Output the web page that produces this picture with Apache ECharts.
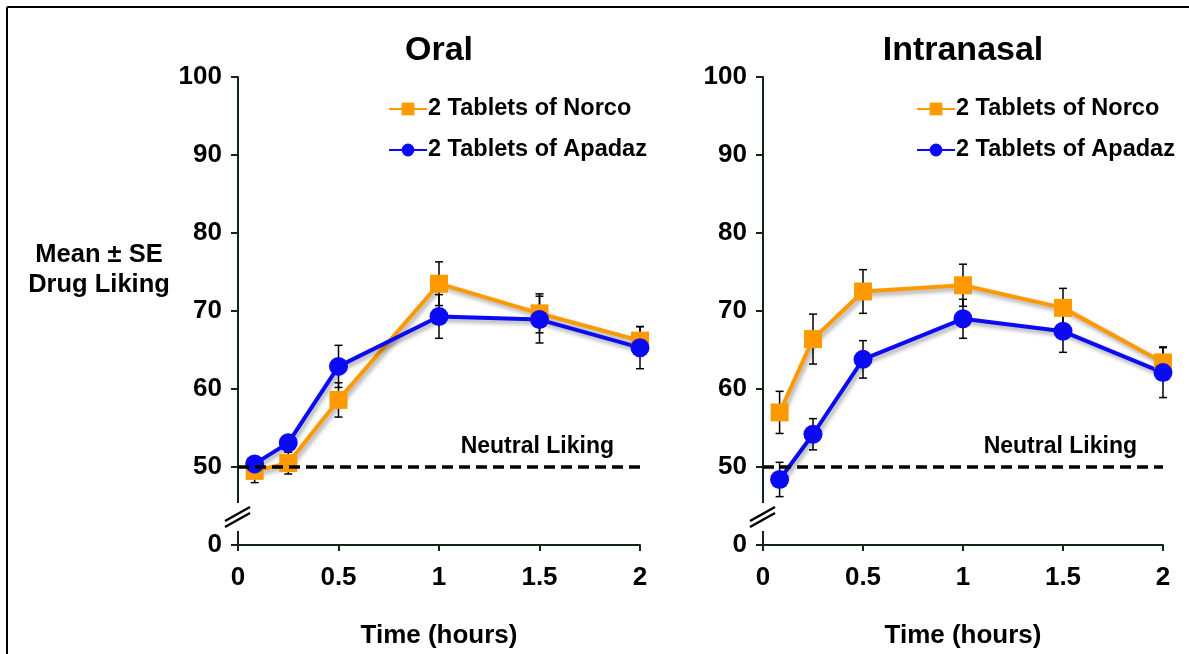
<!DOCTYPE html>
<html>
<head>
<meta charset="utf-8">
<script src="https://cdn.jsdelivr.net/npm/echarts@6/dist/echarts.min.js"></script>
<style>
html,body{margin:0;padding:0;background:#fff;}
#c{width:1189px;height:654px;}
</style>
</head>
<body>
<div id="c"></div>
<script>
// ---- data ----
const times = [0.083, 0.25, 0.5, 1, 1.5, 2];
const oralNorco = [49.5, 50.5, 58.6, 73.5, 69.7, 66.2];
const oralNorcoSE = [1.5, 1.4, 2.2, 2.8, 2.5, 1.8];
const oralApadaz = [50.4, 53.1, 62.9, 69.3, 68.9, 65.3];
const oralApadazSE = [0.8, 1.0, 2.7, 2.8, 3.0, 2.7];
const inNorco = [57.0, 66.4, 72.5, 73.3, 70.4, 63.4];
const inNorcoSE = [2.7, 3.2, 2.8, 2.7, 2.5, 2.0];
const inApadaz = [48.4, 54.2, 63.8, 69.0, 67.4, 62.1];
const inApadazSE = [2.2, 2.0, 2.4, 2.5, 2.7, 3.2];
const yTickLabels = ['0', '50', '60', '70', '80', '90', '100'];
const xTickLabels = ['0', '0.5', '1', '1.5', '2'];
const panelTitles = ['Oral', 'Intranasal'];
const seriesNames = ['2 Tablets of Norco', '2 Tablets of Apadaz'];
const neutralValue = 50;

// broken axis: values >= 50 are shifted down by 40 so that 50 sits one tick above 0
const OFFSET = 40;
const disp = v => v - OFFSET;

const FONT = '"Liberation Sans", Arial, sans-serif';
const AXIS_COLOR = '#132613';
const ORANGE = '#FF9900';
const BLUE = '#0A0AF5';

const grids = [
  {left: 238, top: 77, width: 402, height: 469},
  {left: 763, top: 77, width: 400, height: 469}
];

function xAxisOpt(i) {
  return {
    type: 'value', gridIndex: i, min: 0, max: 2, interval: 0.5,
    axisLine: {show: true, onZero: false, lineStyle: {color: AXIS_COLOR, width: 2}},
    axisTick: {show: true, inside: false, length: 6, lineStyle: {color: AXIS_COLOR, width: 2}},
    splitLine: {show: false},
    axisLabel: {
      margin: 20, color: '#000', fontFamily: FONT, fontWeight: 'bold', fontSize: 26,
      formatter: (v) => xTickLabels[Math.round(v / 0.5)]
    },
    name: 'Time (hours)', nameLocation: 'middle', nameGap: 78,
    nameTextStyle: {color: '#000', fontFamily: FONT, fontWeight: 'bold', fontSize: 26}
  };
}
function yAxisOpt(i) {
  return {
    type: 'value', gridIndex: i, min: 0, max: 60, interval: 10,
    axisLine: {show: true, lineStyle: {color: AXIS_COLOR, width: 2}},
    axisTick: {show: true, length: 7, lineStyle: {color: AXIS_COLOR, width: 2}},
    splitLine: {show: false},
    axisLabel: {
      margin: 16, color: '#000', fontFamily: FONT, fontWeight: 'bold', fontSize: 26,
      formatter: (v) => yTickLabels[Math.round(v / 10)]
    }
  };
}

function lineSeries(name, vals, i, color, symbol, withNeutral) {
  const s = {
    name: name, type: 'line', xAxisIndex: i, yAxisIndex: i, z: 3,
    data: times.map((t, k) => [t, disp(vals[k])]),
    symbol: symbol, symbolSize: symbol === 'rect' ? 18 : 19,
    itemStyle: {color: color},
    lineStyle: {color: color, width: 4, shadowColor: 'rgba(0,0,0,0.35)', shadowBlur: 4, shadowOffsetX: 2, shadowOffsetY: 3},
    emphasis: {disabled: true},
    animation: false
  };
  if (withNeutral) {
    s.markLine = {
      silent: true, symbol: 'none', animation: false,
      lineStyle: {color: '#000', width: 3.5, type: [11, 6]},
      label: {
        show: true, position: 'insideEndTop', distance: [26, 9],
        formatter: 'Neutral Liking', color: '#000', fontFamily: FONT, fontWeight: 'bold', fontSize: 23
      },
      data: [{yAxis: disp(neutralValue)}]
    };
  }
  return s;
}

function errSeries(vals, se, i) {
  return {
    type: 'custom', xAxisIndex: i, yAxisIndex: i, z: 1, silent: true, animation: false,
    encode: {x: 0, y: [1, 2]},
    data: times.map((t, k) => [t, disp(vals[k] - se[k]), disp(vals[k] + se[k])]),
    renderItem: function (params, api) {
      const lo = api.coord([api.value(0), api.value(1)]);
      const hi = api.coord([api.value(0), api.value(2)]);
      const w = 4;
      const st = {stroke: '#000', lineWidth: 1.5};
      return {
        type: 'group',
        children: [
          {type: 'line', shape: {x1: lo[0], y1: lo[1], x2: hi[0], y2: hi[1]}, style: st},
          {type: 'line', shape: {x1: lo[0] - w, y1: lo[1], x2: lo[0] + w, y2: lo[1]}, style: st},
          {type: 'line', shape: {x1: hi[0] - w, y1: hi[1], x2: hi[0] + w, y2: hi[1]}, style: st}
        ]
      };
    }
  };
}

function legendOpt(i, left) {
  return {
    show: true, left: left, top: 97, orient: 'vertical', itemGap: 17, padding: 0,
    itemWidth: 38, itemHeight: 16,
    data: seriesNames,
    selectedMode: false,
    textStyle: {color: '#000', fontFamily: FONT, fontWeight: 'bold', fontSize: 23.5, lineHeight: 24, padding: [0, 0, 0, -4]}
  };
}

// break markers on the y axis (decoration)
function breakGraphics(g) {
  const ax = g.left;
  const items = [];
  items.push({type: 'rect', shape: {x: ax - 6, y: 503, width: 12, height: 28}, style: {fill: '#fff'}, z: 50});
  items.push({type: 'line', shape: {x1: ax - 13, y1: 527, x2: ax + 12, y2: 513}, style: {stroke: '#000', lineWidth: 2.5}, z: 51});
  items.push({type: 'line', shape: {x1: ax - 13, y1: 521, x2: ax + 12, y2: 507}, style: {stroke: '#000', lineWidth: 2.5}, z: 51});
  return items;
}

const chart = echarts.init(document.getElementById('c'), null, {renderer: 'canvas'});
const option = {
  backgroundColor: '#fff',
  animation: false,
  grid: grids.map(g => Object.assign({containLabel: false}, g)),
  xAxis: [xAxisOpt(0), xAxisOpt(1)],
  yAxis: [yAxisOpt(0), yAxisOpt(1)],
  legend: [legendOpt(0, 388), legendOpt(1, 916)],
  series: [
    errSeries(oralNorco, oralNorcoSE, 0),
    errSeries(oralApadaz, oralApadazSE, 0),
    lineSeries(seriesNames[0], oralNorco, 0, ORANGE, 'rect', true),
    lineSeries(seriesNames[1], oralApadaz, 0, BLUE, 'circle', false),
    errSeries(inNorco, inNorcoSE, 1),
    errSeries(inApadaz, inApadazSE, 1),
    lineSeries(seriesNames[0], inNorco, 1, ORANGE, 'rect', true),
    lineSeries(seriesNames[1], inApadaz, 1, BLUE, 'circle', false)
  ],
  graphic: [
    {type: 'line', shape: {x1: 7, y1: 7, x2: 1189, y2: 7}, style: {stroke: '#000', lineWidth: 2}},
    {type: 'line', shape: {x1: 7, y1: 7, x2: 7, y2: 654}, style: {stroke: '#000', lineWidth: 2}},
    {type: 'text', x: grids[0].left + grids[0].width / 2, y: 51, style: {text: panelTitles[0], x: 0, y: 0, textAlign: 'center', textVerticalAlign: 'middle', fill: '#000', font: 'bold 34px ' + FONT}},
    {type: 'text', x: grids[1].left + grids[1].width / 2, y: 51, style: {text: panelTitles[1], x: 0, y: 0, textAlign: 'center', textVerticalAlign: 'middle', fill: '#000', font: 'bold 34px ' + FONT}},
    {type: 'text', x: 99, y: 270, style: {text: 'Mean ± SE\nDrug Liking', x: 0, y: 0, textAlign: 'center', textVerticalAlign: 'middle', lineHeight: 30, fill: '#000', font: 'bold 25.5px ' + FONT}}
  ].concat(breakGraphics(grids[0]), breakGraphics(grids[1]))
};
chart.setOption(option);
</script>
</body>
</html>
